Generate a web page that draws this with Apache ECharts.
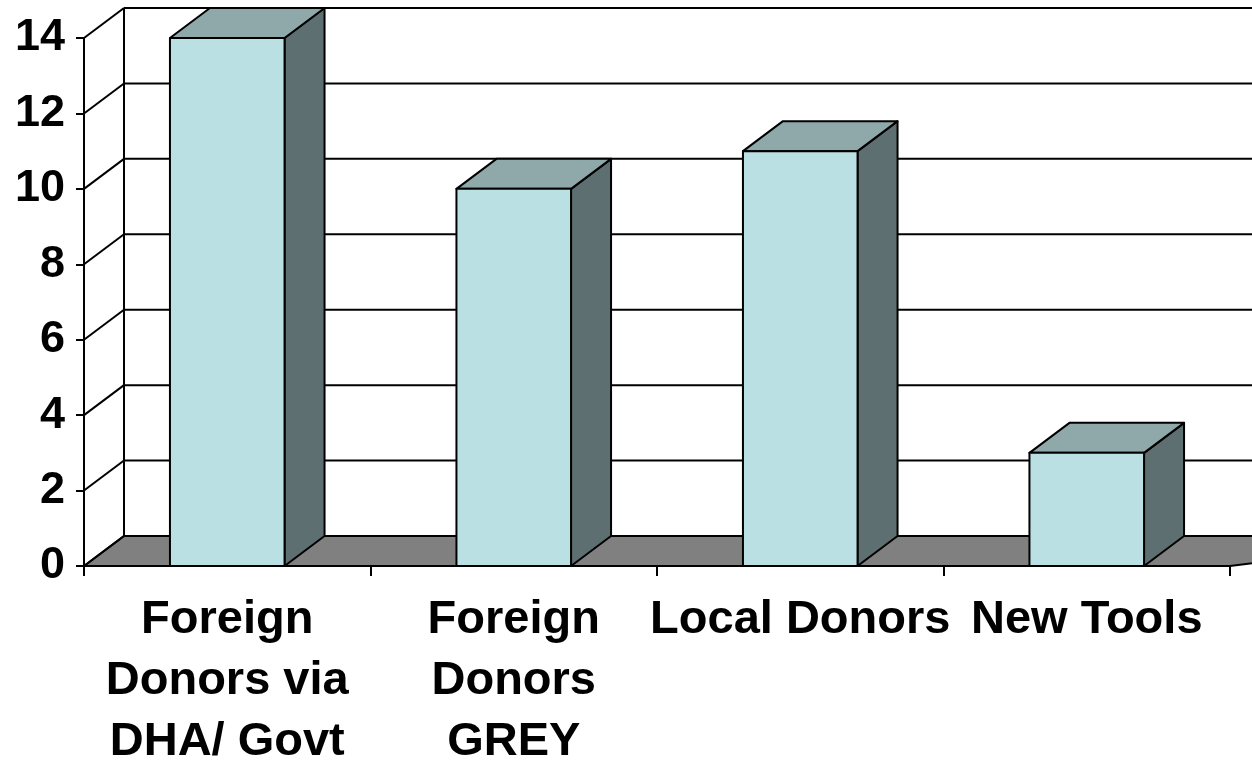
<!DOCTYPE html>
<html>
<head>
<meta charset="utf-8">
<script src="https://cdn.jsdelivr.net/npm/echarts@6/dist/echarts.min.js"></script>
<style>html,body{margin:0;padding:0;background:#fff}#c{width:1252px;height:762px}</style>
</head>
<body>
<div id="c"></div>
<script>
var categories = ["Foreign\nDonors via\nDHA/ Govt", "Foreign\nDonors\nGREY", "Local Donors", "New Tools"];
var values = [14, 10, 11, 3];
var yTicks = [0, 2, 4, 6, 8, 10, 12, 14];

var DX = 40, DY = -30;          // 3D depth offset (style)
var BAR_RATIO = 0.4;
var FRONT = '#BBE0E3', TOP = '#8FA9AB', SIDE = '#5E6F71', FLOOR = '#808080';
var FONT = '"Liberation Sans", Arial, Helvetica, sans-serif';

var chart = echarts.init(document.getElementById('c'), null, {renderer: 'canvas'});

function wallItem(params, api) {
  var cs = params.coordSys;
  var v = api.value(1);
  var y = api.coord([0, v])[1];
  var x0 = cs.x;
  var farX = cs.x + cs.width + 200;
  var st = {stroke: '#000', lineWidth: 2};
  var children = [
    {type: 'line', shape: {x1: x0, y1: y, x2: x0 + DX, y2: y + DY}, style: st},
    {type: 'line', shape: {x1: x0 + DX, y1: y + DY, x2: farX, y2: y + DY}, style: st}
  ];
  if (params.dataIndex === 0) {
    var yTop = api.coord([0, yTicks[yTicks.length - 1]])[1];
    children.unshift({type: 'polygon', shape: {points: [[x0, y], [x0 + DX, y + DY], [farX + DX, y + DY], [cs.x + cs.width, y]]},
      style: {fill: FLOOR, stroke: '#000', lineWidth: 2}});
    children.push({type: 'line', shape: {x1: x0 + DX, y1: y + DY, x2: x0 + DX, y2: yTop + DY}, style: st});
  }
  return {type: 'group', children: children};
}

function barItem(params, api) {
  var idx = api.value(0), v = api.value(1);
  var base = api.coord([idx, 0]);
  var top = api.coord([idx, v]);
  var w = api.size([1, 0])[0] * BAR_RATIO;
  var xl = base[0] - w / 2, xr = base[0] + w / 2;
  var yb = base[1], yt = top[1];
  var st = {stroke: '#000', lineWidth: 2, lineJoin: 'round'};
  return {type: 'group', children: [
    {type: 'polygon', shape: {points: [[xr, yb], [xr + DX, yb + DY], [xr + DX, yt + DY], [xr, yt]]},
      style: Object.assign({fill: SIDE}, st)},
    {type: 'polygon', shape: {points: [[xl, yt], [xl + DX, yt + DY], [xr + DX, yt + DY], [xr, yt]]},
      style: Object.assign({fill: TOP}, st)},
    {type: 'rect', shape: {x: xl, y: yt, width: w, height: yb - yt},
      style: Object.assign({fill: FRONT}, st)}
  ]};
}

chart.setOption({
  animation: false,
  backgroundColor: '#fff',
  grid: {left: 84, right: 22, top: 38, bottom: 196, containLabel: false, outerBoundsMode: 'none'},
  xAxis: {
    type: 'category',
    data: categories,
    axisLine: {show: true, lineStyle: {color: '#000', width: 2}},
    axisTick: {show: true, length: 10, lineStyle: {color: '#000', width: 2}},
    axisLabel: {interval: 0, margin: 24, color: '#000', fontSize: 47, fontWeight: 'bold',
      fontFamily: FONT, lineHeight: 61},
    splitLine: {show: false}
  },
  yAxis: {
    type: 'value',
    min: 0, max: 14, interval: 2,
    axisLine: {show: true, lineStyle: {color: '#000', width: 2}},
    axisTick: {show: true, length: 8, lineStyle: {color: '#000', width: 2}},
    axisLabel: {margin: 19, color: '#000', fontSize: 45, fontWeight: 'bold', fontFamily: FONT, padding: [6, 0, 0, 0]},
    splitLine: {show: false}
  },
  series: [
    {
      type: 'custom', z: 1, silent: true,
      renderItem: wallItem,
      encode: {x: 0, y: 1},
      data: yTicks.map(function (t) { return [0, t]; })
    },
    {
      type: 'custom', z: 3, silent: true,
      renderItem: barItem,
      encode: {x: 0, y: 1},
      data: values.map(function (v, i) { return [i, v]; })
    }
  ]
});
</script>
</body>
</html>
